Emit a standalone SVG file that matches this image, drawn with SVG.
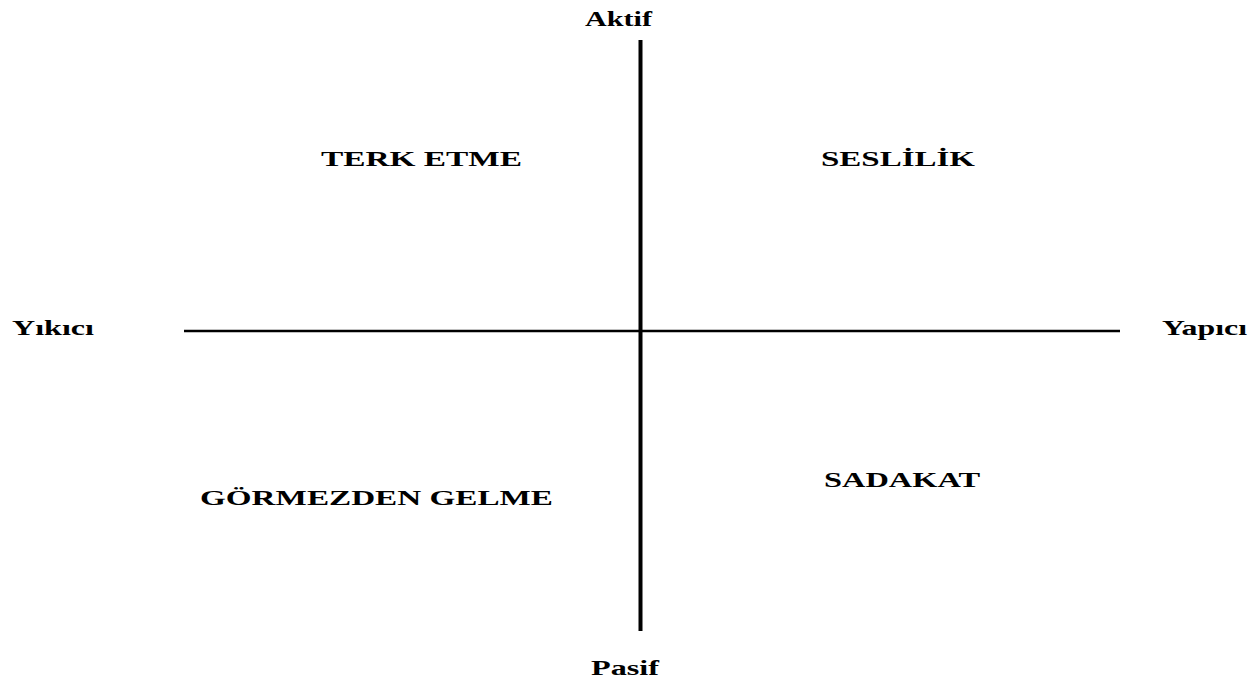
<svg xmlns="http://www.w3.org/2000/svg" width="1259" height="680" viewBox="0 0 1259 680">
<style>
text{font-family:"Liberation Serif","Times New Roman",serif;font-weight:bold;fill:#000}
.ax{font-size:21px}
.q{font-size:21px}
line{stroke:#000}
</style>
<rect width="1259" height="680" fill="#fff"/>
<g id="connectors">
<line x1="640.5" y1="40" x2="640.5" y2="631" stroke-width="4"/>
<line x1="184" y1="331" x2="1120" y2="331" stroke-width="2.5"/>
</g>
<g id="aktif"><text class="ax" x="585" y="26" textLength="67" lengthAdjust="spacingAndGlyphs">Aktif</text></g>
<g id="pasif"><text class="ax" x="591" y="675" textLength="68" lengthAdjust="spacingAndGlyphs">Pasif</text></g>
<g id="yikici"><text class="ax" x="12" y="335" textLength="82" lengthAdjust="spacingAndGlyphs">Yıkıcı</text></g>
<g id="yapici"><text class="ax" x="1162" y="335" textLength="85" lengthAdjust="spacingAndGlyphs">Yapıcı</text></g>
<g id="terk-etme"><text class="q" x="321" y="166" textLength="201" lengthAdjust="spacingAndGlyphs">TERK ETME</text></g>
<g id="seslilik"><text class="q" x="821" y="166" textLength="154" lengthAdjust="spacingAndGlyphs">SESLİLİK</text></g>
<g id="gormezden-gelme"><text class="q" x="200" y="505" textLength="353" lengthAdjust="spacingAndGlyphs" style="font-size:22px">GÖRMEZDEN GELME</text></g>
<g id="sadakat"><text class="q" x="824" y="487" textLength="156" lengthAdjust="spacingAndGlyphs">SADAKAT</text></g>
</svg>
